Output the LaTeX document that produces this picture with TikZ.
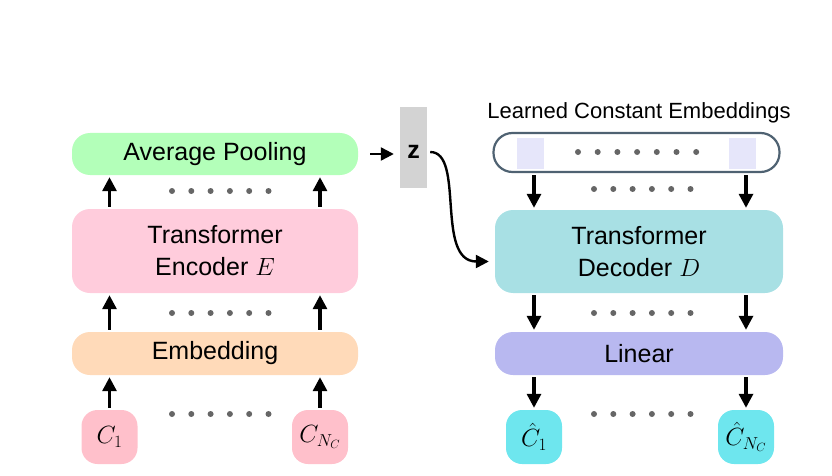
\documentclass[tikz,border=0pt]{standalone}
\usepackage{fontspec}
\setmainfont{Liberation Sans}
\usetikzlibrary{positioning}
\usetikzlibrary{arrows.meta}
\definecolor{poolgreen}{HTML}{B3FFB9}
\definecolor{encpink}{HTML}{FFCCDC}
\definecolor{embpeach}{HTML}{FFDAB9}
\definecolor{tokpink}{HTML}{FFC0CB}
\definecolor{decteal}{HTML}{A8E0E4}
\definecolor{linviolet}{HTML}{B8B8F0}
\definecolor{outcyan}{HTML}{6EE6EE}
\definecolor{zgray}{HTML}{D3D3D3}
\definecolor{pillborder}{HTML}{4F6272}
\definecolor{slotblue}{HTML}{E6E6FA}
\definecolor{dotgray}{HTML}{666666}
\tikzset{
    block/.style = {rectangle, rounded corners=18pt, minimum width=286pt, inner sep=0pt, align=center, font=\fontsize{25}{32}\selectfont},
    token/.style = {rectangle, rounded corners=16pt, minimum width=56pt, minimum height=54pt, inner sep=0pt, font=\fontsize{24}{28}\selectfont},
    edgeu/.style = {-{Triangle[length=14pt,width=14pt]}, line width=3.2pt, shorten <=2pt, shorten >=2pt},
    edgez/.style = {-{Triangle[length=13pt,width=13pt]}, line width=2.4pt},
    pdot/.style = {circle, fill=dotgray, inner sep=0pt, minimum size=6pt},
}

\begin{document}
\begin{tikzpicture}[x=1pt,y=-1pt]
  \useasboundingbox (0,0) rectangle (832,476);
  % encoder side
  \node (pool) at (215,154) [block,minimum height=42pt,fill=poolgreen] {Average Pooling};
  \node (enc) at (215,251) [block,minimum height=84pt,fill=encpink] {Transformer\\Encoder $E$};
  \node (emb) at (215,353.5) [block,minimum height=43pt,fill=embpeach] {Embedding};
  \node (c1) at (109.5,437) [token,fill=tokpink] {$C_1$};
  \node (cn) at (320,437) [token,fill=tokpink] {$C_{N_C}$};
  % latent
  \node (zbox) at (413.5,147.5) [rectangle,fill=zgray,minimum width=27pt,minimum height=81pt] {};
  \node (z) at (413.5,152) [font=\fontsize{25}{30}\selectfont\bfseries] {z};
  % decoder side
  \node (learned) at (639,113) [font=\fontsize{22}{26}\selectfont] {Learned Constant Embeddings};
  \node (pill) at (636.5,152.5) [rectangle,draw=pillborder,line width=2.2pt,rounded corners=19pt,minimum width=286pt,minimum height=39pt] {};
  \node (slot1) at (530.5,153.5) [rectangle,fill=slotblue,minimum width=27pt,minimum height=31pt] {};
  \node (slotn) at (742,153.5) [rectangle,fill=slotblue,minimum width=27pt,minimum height=31pt] {};
  \node (dec) at (639,251.5) [block,minimum width=288pt,minimum height=83pt,fill=decteal] {Transformer\\Decoder $D$};
  \node (lin) at (639,353.5) [block,minimum width=288pt,minimum height=43pt,fill=linviolet] {Linear};
  \node (o1) at (534,437) [token,fill=outcyan] {$\hat{C}_1$};
  \node (on) at (746,437) [token,fill=outcyan] {$\hat{C}_{N_C}$};

  \foreach \t in {c1,cn} {
    \draw[edgeu] (\t.north) -- (emb.south -| \t);
    \draw[edgeu] (emb.north -| \t) -- (enc.south -| \t);
    \draw[edgeu] (enc.north -| \t) -- (pool.south -| \t);
  }
  \foreach \t in {o1,on} {
    \draw[edgeu] (pill.south -| \t) -- (dec.north -| \t);
    \draw[edgeu] (dec.south -| \t) -- (lin.north -| \t);
    \draw[edgeu] (lin.south -| \t) -- (\t.north);
  }
  \draw[edgez,shorten <=12pt,shorten >=6pt] (pool.east) -- (pool.east -| zbox.west);
  \draw[edgez,shorten <=3pt,shorten >=6pt] (zbox.east |- z) .. controls +(38,0) and +(-60,0) .. ([yshift=-10pt]dec.west);

  \foreach \y in {191,313,414} \foreach \i in {0,...,5}
    \node[pdot] at (172+19.3*\i,\y) {};
  \foreach \y in {189,313,414} \foreach \i in {0,...,5}
    \node[pdot] at (594+19.3*\i,\y) {};
  \foreach \i in {0,...,6}
    \node[pdot] at (578+19.7*\i,152) {};
\end{tikzpicture}
\end{document}
